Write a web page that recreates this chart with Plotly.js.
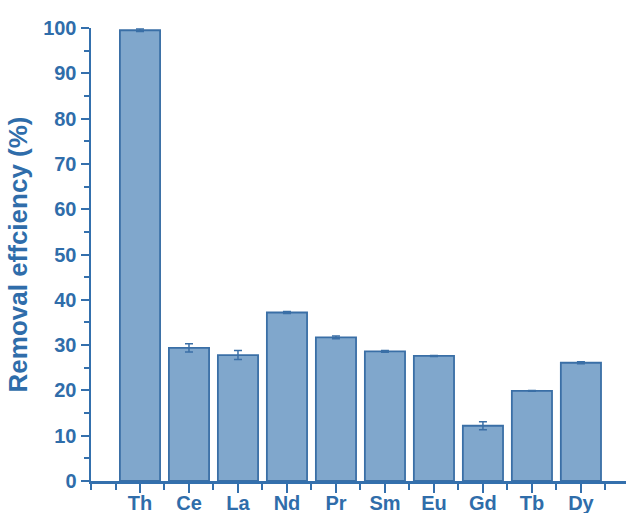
<!DOCTYPE html>
<html>
<head>
<meta charset="utf-8">
<script src="https://cdn.plot.ly/plotly-3.0.1.min.js"></script>
<style>html,body{margin:0;padding:0;background:#fff;}#chart{width:626px;height:513px;}</style>
</head>
<body>
<div id="chart"></div>
<script>
const categories = ['Th','Ce','La','Nd','Pr','Sm','Eu','Gd','Tb','Dy'];
const removal = [99.5, 29.4, 27.8, 37.2, 31.7, 28.6, 27.6, 12.2, 19.9, 26.1];
const errors = [0.3, 0.9, 1.0, 0.2, 0.3, 0.2, 0.1, 0.9, 0.1, 0.2];
const yTickVals = [0,10,20,30,40,50,60,70,80,90,100];

const blue = '#3470AD';
const textBlue = '#2F6DAA';
const idx = categories.map((c,i)=>i);

const trace = {
  type: 'bar',
  x: idx,
  y: removal,
  width: 0.82,
  marker: {color: '#80A7CC', line: {color: '#3A6FA6', width: 1.8}},
  error_y: {type: 'data', array: errors, visible: true, color: '#3A6FA6', thickness: 1.5, width: 4},
  hoverinfo: 'x+y'
};

const layout = {
  width: 626, height: 513,
  margin: {l: 91, r: 0, t: 28, b: 32, pad: 0},
  paper_bgcolor: '#fff', plot_bgcolor: '#fff',
  showlegend: false,
  font: {family: 'Liberation Sans, Arial, sans-serif', color: textBlue},
  xaxis: {
    type: 'linear',
    range: [-1, 9.92],
    tickvals: idx,
    ticktext: categories,
    ticks: 'outside', ticklen: 9, tickwidth: 2, tickcolor: blue,
    ticklabelstandoff: -7,
    showline: true, linecolor: blue, linewidth: 2.5,
    showgrid: false, zeroline: false,
    tickfont: {size: 20, weight: 'bold', color: textBlue},
    minor: {tickvals: [-1,-0.5,0.5,1.5,2.5,3.5,4.5,5.5,6.5,7.5,8.5,9.5], ticks: 'outside', ticklen: 6, tickwidth: 2, tickcolor: blue, showgrid: false},
    fixedrange: true
  },
  yaxis: {
    range: [0, 100],
    tickvals: yTickVals,
    ticks: 'outside', ticklen: 8, tickwidth: 2, tickcolor: blue,
    showline: true, linecolor: blue, linewidth: 2.5, mirror: true,
    showgrid: false, zeroline: false,
    tickfont: {size: 20, weight: 'bold', color: textBlue},
    minor: {dtick: 5, tick0: 5, ticks: 'outside', ticklen: 5, tickwidth: 2, tickcolor: blue, showgrid: false},
    title: {text: 'Removal effciency (%)', font: {size: 26, weight: 'bold', color: textBlue}, standoff: 8},
    fixedrange: true
  }
};

Plotly.newPlot('chart', [trace], layout, {displayModeBar: false, staticPlot: true});
</script>
</body>
</html>
